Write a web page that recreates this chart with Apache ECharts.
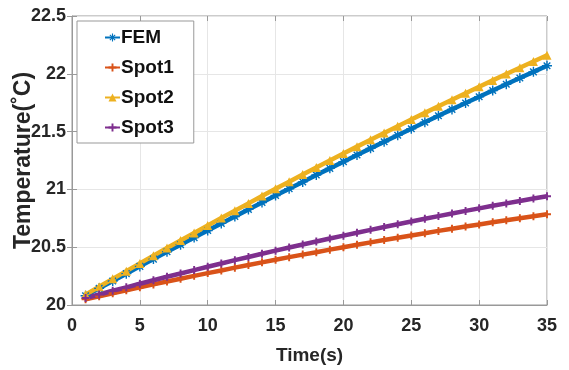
<!DOCTYPE html>
<html>
<head>
<meta charset="utf-8">
<script src="https://cdn.jsdelivr.net/npm/echarts@6/dist/echarts.min.js"></script>
<style>
  html, body { margin: 0; padding: 0; background: #fff; }
  #chart { width: 569px; height: 370px; }
</style>
</head>
<body>
<div id="chart"></div>
<script>
// time steps 1..35 s
const time = [1,2,3,4,5,6,7,8,9,10,11,12,13,14,15,16,17,18,19,20,21,22,23,24,25,26,27,28,29,30,31,32,33,34,35];

const fem = [20.080,20.144,20.208,20.271,20.334,20.397,20.460,20.522,20.583,20.645,
  20.706,20.766,20.827,20.887,20.947,21.006,21.065,21.124,21.182,21.240,
  21.298,21.355,21.412,21.469,21.525,21.581,21.637,21.692,21.747,21.802,
  21.856,21.910,21.964,22.017,22.070];
const spot1 = [20.050,20.076,20.102,20.128,20.153,20.178,20.203,20.227,20.252,20.276,
  20.299,20.323,20.346,20.369,20.391,20.414,20.436,20.457,20.479,20.500,
  20.521,20.542,20.562,20.582,20.602,20.621,20.641,20.660,20.679,20.697,
  20.715,20.733,20.751,20.768,20.785];
const spot2 = [20.090,20.158,20.226,20.293,20.360,20.427,20.493,20.558,20.623,20.688,
  20.752,20.816,20.879,20.942,21.005,21.066,21.128,21.189,21.250,21.310,
  21.370,21.429,21.488,21.547,21.604,21.662,21.719,21.776,21.832,21.888,
  21.943,21.998,22.052,22.106,22.160];
const spot3 = [20.060,20.091,20.123,20.153,20.184,20.214,20.244,20.273,20.302,20.331,
  20.359,20.388,20.415,20.443,20.470,20.497,20.523,20.549,20.575,20.600,
  20.625,20.650,20.675,20.699,20.722,20.746,20.769,20.792,20.814,20.836,
  20.858,20.879,20.900,20.921,20.941];

const names = ['FEM', 'Spot1', 'Spot2', 'Spot3'];
const colors = ['#0072BD', '#D95319', '#EDB120', '#7E2F8E'];

const font = '"Liberation Sans", Arial, sans-serif';
// marker shapes (MATLAB-like '*', '+', '^')
const asterisk = 'path://M4.3,0h1.4v4.3h4.3v1.4h-4.3v4.3h-1.4v-4.3h-4.3v-1.4h4.3z' +
  'M1.2,2.2L2.2,1.2L8.8,7.8L7.8,8.8Z M7.8,1.2L8.8,2.2L2.2,8.8L1.2,7.8Z';
const plus = 'path://M3.8,0h2.4v3.8h3.8v2.4h-3.8v3.8h-2.4v-3.8h-3.8v-2.4h3.8z';

const pairs = (ys) => time.map((t, i) => [t, ys[i]]);

const chart = echarts.init(document.getElementById('chart'));

const mkSeries = (name, ys, color, symbol, size) => ({
  name: name,
  type: 'line',
  data: pairs(ys),
  symbol: symbol,
  symbolSize: size,
  showSymbol: true,
  lineStyle: { color: color, width: 4.5 },
  itemStyle: { color: color },
  animation: false
});

chart.setOption({
  color: colors,
  grid: {
    left: 72, right: 22, top: 16, bottom: 65,
    containLabel: false, outerBoundsMode: 'none',
    show: true, borderColor: '#999', borderWidth: 1, backgroundColor: '#fff'
  },
  legend: {
    data: names,
    orient: 'vertical',
    left: 77, top: 21,
    padding: [7, 20, 6, 27],
    itemGap: 11,
    itemWidth: 15, itemHeight: 10,
    backgroundColor: '#fff',
    borderColor: '#999', borderWidth: 1,
    textStyle: { fontFamily: font, fontWeight: 'bold', fontSize: 19, color: '#111', padding: [0, 0, 0, -4] }
  },
  xAxis: [{
    type: 'value', min: 0, max: 35, interval: 5,
    name: 'Time(s)', nameLocation: 'middle', nameGap: 41, nameMoveOverlap: false,
    nameTextStyle: { fontFamily: font, fontWeight: 'bold', fontSize: 19, color: '#262626' },
    axisLine: { lineStyle: { color: '#999' } },
    axisTick: { inside: true, length: 5, lineStyle: { color: '#999' } },
    axisLabel: { fontFamily: font, fontWeight: 'bold', fontSize: 18, color: '#262626', margin: 12 },
    splitLine: { show: true, lineStyle: { color: '#e6e6e6' } }
  }, {
    type: 'value', min: 0, max: 35, interval: 5, position: 'top',
    axisLine: { show: false },
    axisTick: { inside: true, length: 5, lineStyle: { color: '#999' } },
    axisLabel: { show: false }, splitLine: { show: false }
  }],
  yAxis: [{
    type: 'value', min: 20, max: 22.5, interval: 0.5,
    name: 'Temperature(\u02DAC)', nameLocation: 'middle', nameGap: 37, nameMoveOverlap: false,
    nameTextStyle: { fontFamily: font, fontWeight: 'bold', fontSize: 23, color: '#262626' },
    axisLine: { show: true, lineStyle: { color: '#999' } },
    axisTick: { show: true, inside: true, length: 5, lineStyle: { color: '#999' } },
    axisLabel: { fontFamily: font, fontWeight: 'bold', fontSize: 18, color: '#262626', margin: 6 },
    splitLine: { show: true, lineStyle: { color: '#e6e6e6' } }
  }, {
    type: 'value', min: 20, max: 22.5, interval: 0.5, position: 'right',
    axisLine: { show: false },
    axisTick: { show: true, inside: true, length: 5, lineStyle: { color: '#999' } },
    axisLabel: { show: false }, splitLine: { show: false }
  }],
  series: [
    mkSeries('FEM', fem, colors[0], asterisk, 10),
    mkSeries('Spot1', spot1, colors[1], plus, 8),
    mkSeries('Spot2', spot2, colors[2], 'triangle', 9),
    mkSeries('Spot3', spot3, colors[3], plus, 8)
  ]
});
</script>
</body>
</html>
